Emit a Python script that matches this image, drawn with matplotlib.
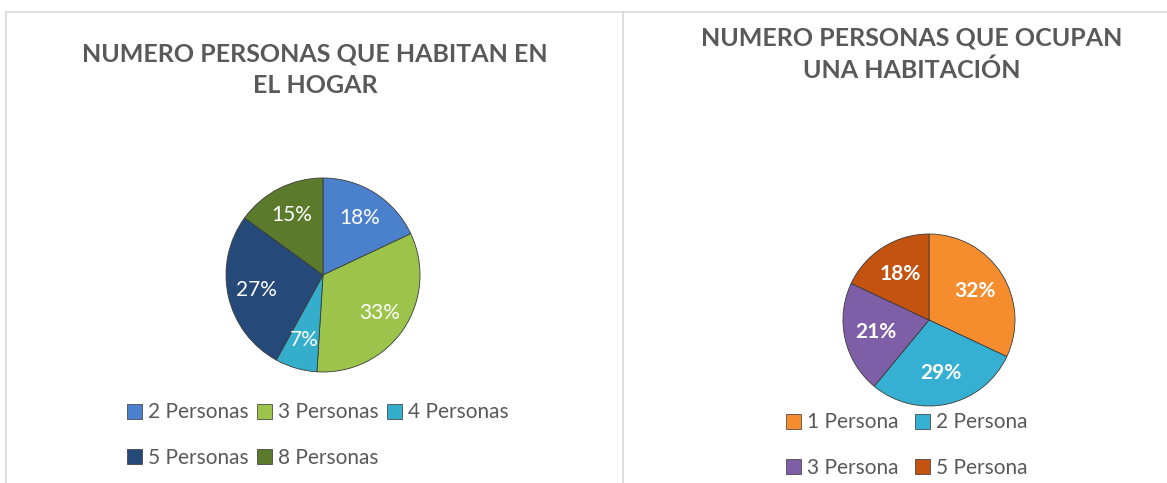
import matplotlib
matplotlib.use('Agg')
import matplotlib.pyplot as plt
from matplotlib.patches import Patch
from matplotlib.lines import Line2D

plt.rcParams['font.family'] = ['Lato', 'DejaVu Sans']

# datos
hogar_labels = ['2 Personas', '3 Personas', '4 Personas', '5 Personas', '8 Personas']
hogar_vals = [18, 33, 7, 27, 15]
hogar_colors = ['#4a80cc', '#9cc44a', '#35aecb', '#254a7a', '#5b7a2c']

hab_labels = ['1 Persona', '2 Persona', '3 Persona', '5 Persona']
hab_vals = [32, 29, 21, 18]
hab_colors = ['#f58d2e', '#36b0d2', '#7f5ea8', '#c4530f']

W, H = 1167, 483
fig = plt.figure(figsize=(W / 100, H / 100), dpi=100)
fig.patch.set_facecolor('white')

def pie_axes(cx, cy, r):
    return fig.add_axes([(cx - r) / W, (H - cy - r) / H, 2 * r / W, 2 * r / H])

gray = '#595959'

# panel borders
fig.add_artist(Line2D([6 / W, 1], [1 - 12 / H, 1 - 12 / H], color='#d9d9d9', lw=1.2))
fig.add_artist(Line2D([6 / W, 6 / W], [0, 1 - 12 / H], color='#d9d9d9', lw=1.2))
fig.add_artist(Line2D([623 / W, 623 / W], [0, 1 - 12 / H], color='#d9d9d9', lw=1.2))

# left chart
ax1 = pie_axes(323, 275, 97)
w1, t1, a1 = ax1.pie(hogar_vals, colors=hogar_colors, startangle=90, counterclock=False,
                     autopct='%d%%', pctdistance=0.7,
                     wedgeprops=dict(edgecolor='#3a3a3a', linewidth=0.6),
                     textprops=dict(color='white', fontsize=15))
ax1.set_xlim(-1, 1); ax1.set_ylim(-1, 1)
ax1.set_aspect('auto')
fig.text(315 / W, 1 - 70 / H, 'NUMERO PERSONAS QUE HABITAN EN\nEL HOGAR', ha='center', va='center',
         fontsize=18, fontweight='bold', color=gray, linespacing=1.45)

order1 = [0, 3, 1, 4, 2]
h1 = [Patch(facecolor=hogar_colors[i], edgecolor='#333333', linewidth=0.5) for i in order1]
fig.legend(h1, [hogar_labels[i] for i in order1], ncol=3, loc='center',
           bbox_to_anchor=(318 / W, 1 - 435 / H), frameon=False, fontsize=15,
           labelcolor=gray, handlelength=0.7, handleheight=0.7, handletextpad=0.3,
           columnspacing=0.4, labelspacing=1.2)

# right chart
ax2 = pie_axes(929, 320, 86)
w2, t2, a2 = ax2.pie(hab_vals, colors=hab_colors, startangle=90, counterclock=False,
                     autopct='%d%%', pctdistance=0.63,
                     wedgeprops=dict(edgecolor='#3a3a3a', linewidth=0.6),
                     textprops=dict(color='white', fontsize=15, fontweight='bold'))
ax2.set_xlim(-1, 1); ax2.set_ylim(-1, 1)
ax2.set_aspect('auto')
fig.text(912 / W, 1 - 54 / H, 'NUMERO PERSONAS QUE OCUPAN\nUNA HABITACIÓN', ha='center', va='center',
         fontsize=18, fontweight='bold', color=gray, linespacing=1.45)

order2 = [0, 2, 1, 3]
h2 = [Patch(facecolor=hab_colors[i], edgecolor='#333333', linewidth=0.5) for i in order2]
fig.legend(h2, [hab_labels[i] for i in order2], ncol=2, loc='center',
           bbox_to_anchor=(907 / W, 1 - 445 / H), frameon=False, fontsize=15,
           labelcolor=gray, handlelength=0.7, handleheight=0.7, handletextpad=0.3,
           columnspacing=0.8, labelspacing=1.2)

fig.savefig('out.png', dpi=100, facecolor='white')
